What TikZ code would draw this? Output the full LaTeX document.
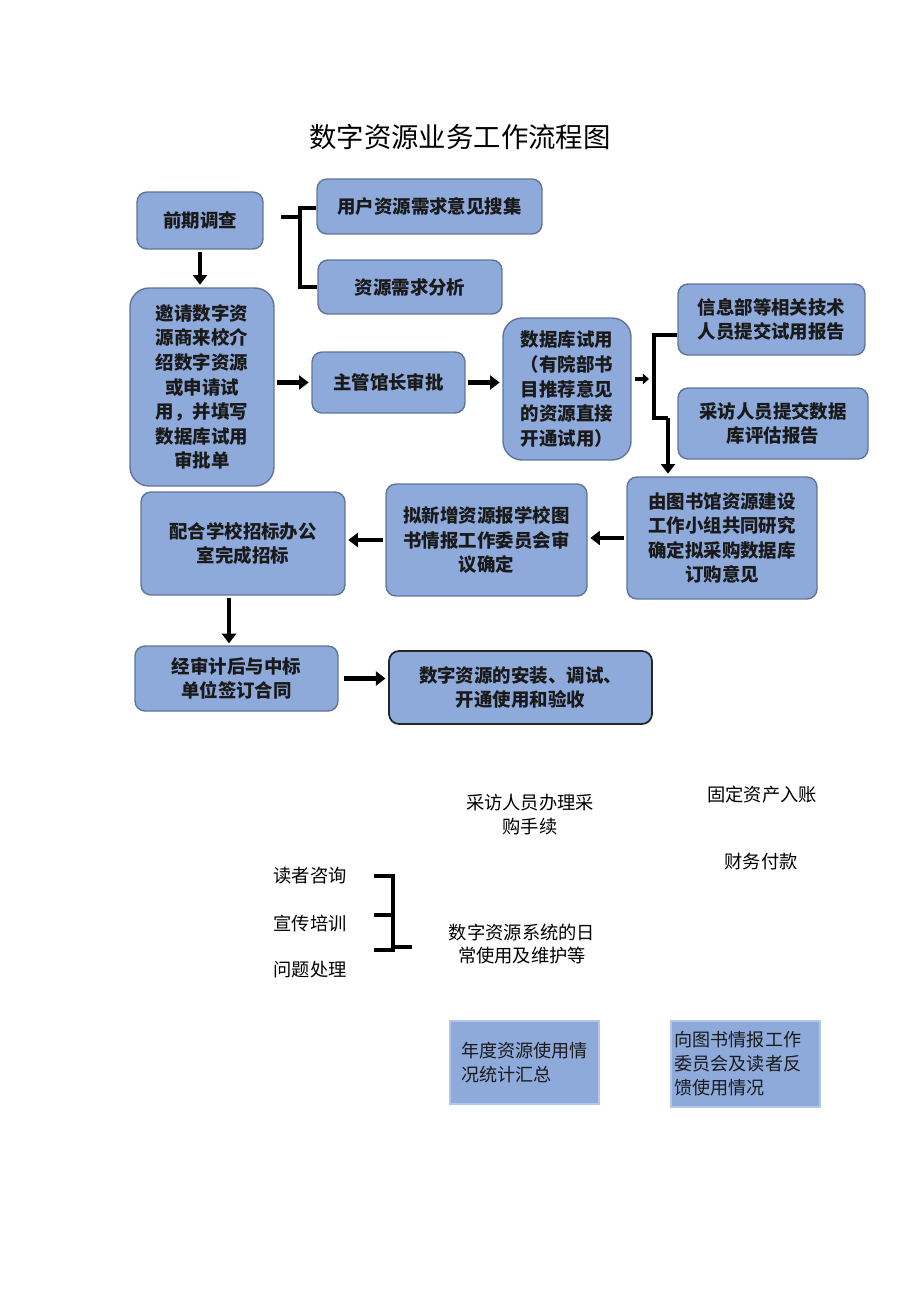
\documentclass[tikz,border=0pt]{standalone}
\usepackage{fontspec}
\setmainfont{Noto Sans CJK SC}
\usetikzlibrary{arrows.meta,calc}
\definecolor{boxfill}{RGB}{142,170,219}
\definecolor{boxline}{RGB}{96,116,150}
\definecolor{boxtxt}{RGB}{26,26,26}
\definecolor{flatline}{RGB}{180,198,231}
\begin{document}
\begin{tikzpicture}[x=0.02cm,y=-0.02cm,
  box/.style={draw=boxline, line width=0.8pt, fill=boxfill, rounded corners=0.2cm,
    align=center, font=\fontsize{10.5}{14}\selectfont\bfseries, text=boxtxt, inner sep=0pt},
  bigr/.style={rounded corners=0.38cm},
  flat/.style={draw=flatline, line width=0.8pt, fill=boxfill, align=left,
    font=\fontsize{10.3}{13.6}\selectfont, text=boxtxt, inner sep=0pt},
  plain/.style={align=center, font=\fontsize{10.4}{13.6}\selectfont, text=black, inner sep=0pt},
  arr/.style={line width=2.6pt, -{Triangle[width=8pt,length=5.5pt]}, shorten <=1.5pt, shorten >=1.5pt},
  arrs/.style={line width=2.4pt, -{Triangle[width=6pt,length=3.5pt]}},
  brk/.style={line width=2.2pt}
]
\useasboundingbox (0,0) rectangle (920,1301);

\node[font=\fontsize{15.6}{18}\selectfont] (title) at (460,137) {数字资源业务工作流程图};

% row 1
\node[box, minimum width=2.52cm, minimum height=1.14cm] (pre) at (200,220.5) {前期调查};
\node[box, minimum width=4.5cm, minimum height=1.1cm] (user) at (429.5,206.5) {用户资源需求意见搜集};
\node[box, minimum width=3.68cm, minimum height=1.08cm] (ana) at (410,287) {资源需求分析};

% row 2
\node[box, bigr, minimum width=2.88cm, minimum height=3.96cm] (invite) at (202,387)
  {邀请数字资\\源商来校介\\绍数字资源\\或申请试\\用，并填写\\数据库试用\\审批单};
\node[box, minimum width=3.06cm, minimum height=1.22cm] (main) at (388.5,382.5) {主管馆长审批};
\node[box, bigr, minimum width=2.56cm, minimum height=2.84cm] (trial) at (567,389)
  {数据库试用\\（有院部书\\目推荐意见\\的资源直接\\开通试用）};
\node[box, minimum width=3.74cm, minimum height=1.42cm] (info) at (771.5,319.5)
  {信息部等相关技术\\人员提交试用报告};
\node[box, minimum width=3.8cm, minimum height=1.42cm] (eval) at (773,423.5)
  {采访人员提交数据\\库评估报告};

% row 3
\node[box, minimum width=3.8cm, minimum height=2.44cm] (lib) at (722,538)
  {由图书馆资源建设\\工作小组共同研究\\确定拟采购数据库\\订购意见};
\node[box, minimum width=4.02cm, minimum height=2.24cm] (newr) at (486.5,540)
  {拟新增资源报学校图\\书情报工作委员会审\\议确定};
\node[box, minimum width=4.08cm, minimum height=2.06cm] (bid) at (243,543.5)
  {配合学校招标办公\\室完成招标};

% row 4
\node[box, minimum width=4.06cm, minimum height=1.3cm] (contract) at (236.5,678.5)
  {经审计后与中标\\单位签订合同};
\node[box, draw=black!85, line width=1pt, minimum width=5.26cm, minimum height=1.46cm] (install) at (520.5,687.5)
  {数字资源的安装、调试、\\开通使用和验收};

% connectors upper part
\coordinate (bj) at (300,217);
\draw[brk] (user.west |- 0,208) -| (bj) |- (ana.west);
\draw[brk] (281,217) -- (bj);
\draw[arr] (pre.south) -- (pre.south |- invite.north);
\draw[arr] (invite.east |- main.west) -- (main.west);
\draw[arr] (main.east) -- (main.east -| trial.west);
\coordinate (rj) at (654,379);
\coordinate (rb) at (668,418);
\draw[arrs] (635,379) -- (649,379);
\draw[brk] (info.west |- 0,335) -| (rj) |- (rb);
\draw[arr, shorten <=0pt] (rb) -- (rb |- lib.north);
\draw[arr] (lib.west) -- (lib.west -| newr.east);
\draw[arr] (newr.west) -- (newr.west -| bid.east);
\draw[arr] (229,595) -- (229,646);
\draw[arr, shorten <=3pt] (contract.east) -- (contract.east -| install.west);

% lower part
\node[plain] (cai) at (530,815) {采访人员办理采\\购手续};
\node[plain] (gd) at (762,795) {固定资产入账};
\node[plain] (cw) at (761,862) {财务付款};
\node[plain] (dz) at (310,876) {读者咨询};
\node[plain] (xc) at (310,923) {宣传培训};
\node[plain] (wt) at (310,970) {问题处理};
\node[plain] (sys) at (522,944) {数字资源系统的日\\常使用及维护等};

\coordinate (lb) at (393,947);
\draw[brk] (374,876) -- (393,876) -- (393,950) -- (374,950);
\draw[brk] (374,915) -- (393,915);
\draw[brk] (lb) -- (412,947);

\node[flat, minimum width=2.98cm, minimum height=1.66cm] (annual) at (524.5,1062.5)
  {年度资源使用情\\况统计汇总};
\node[flat, minimum width=2.98cm, minimum height=1.72cm, text width=2.84cm] (report) at (745.5,1064)
  {向图书情报工作\\委员会及读者反\\馈使用情况};
\end{tikzpicture}
\end{document}
